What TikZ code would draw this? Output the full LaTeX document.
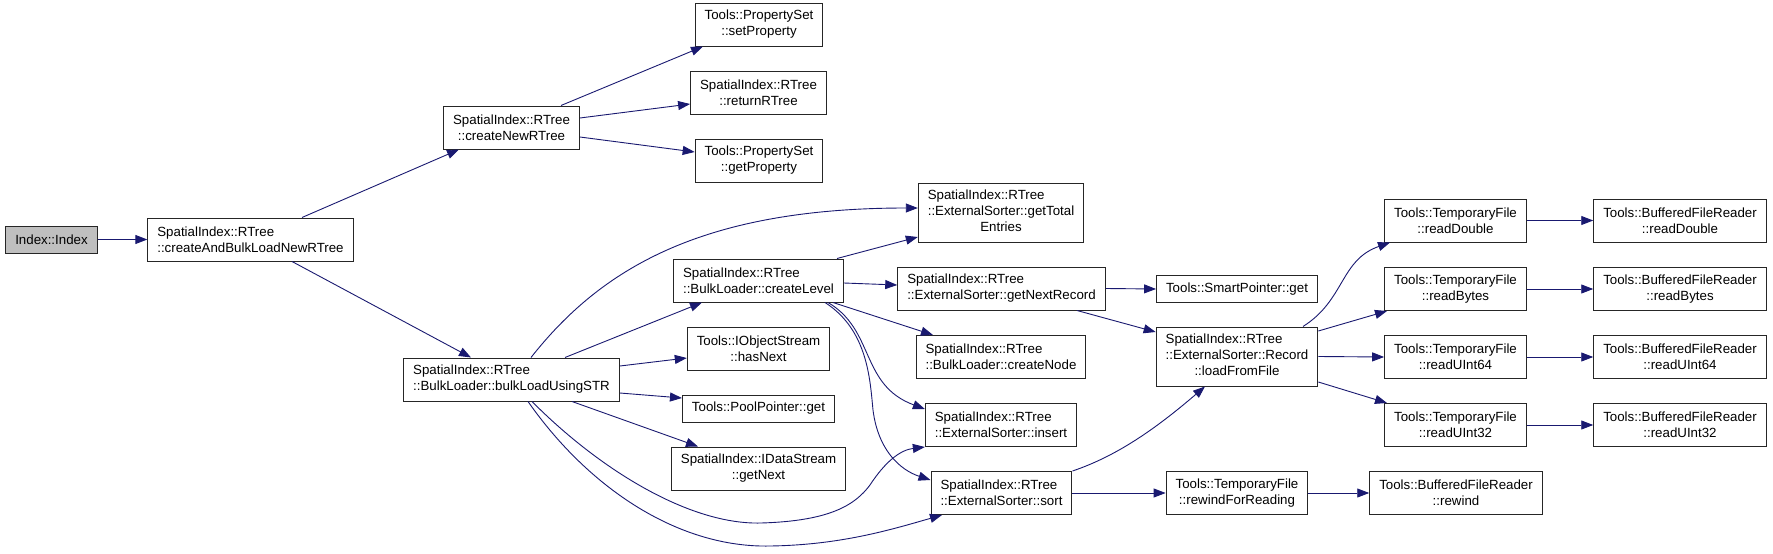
\documentclass[tikz,border=0pt]{standalone}
\usepackage{fontspec}
\setmainfont{Liberation Sans}
\usetikzlibrary{arrows.meta}
\definecolor{callblue}{RGB}{25,25,112}
\newcommand{\lastrow}[1]{\multicolumn{1}{@{}c@{}}{#1}}

\begin{document}
\begin{tikzpicture}[x=1pt, y=-1pt,
        fn/.style={draw=black!85, line width=1pt, fill=white, inner xsep=9.5pt, inner ysep=0pt,
            minimum height=43pt, align=center, font=\fontsize{13.3}{16}\selectfont},
        fnl/.style={fn, align=left},
        one/.style={minimum height=27pt},
        three/.style={minimum height=59pt},
        call/.style={draw=callblue, line width=0.9pt, -{Triangle[length=12pt,width=9pt]}}]

            \useasboundingbox (0,0) rectangle (1773,554);

            \node[fn, one, fill=black!25] (index) at (51.5,239.5) {Index::Index};
            \node[fnl] (cabl) at (250.5,239.5) {SpatialIndex::RTree\\::createAndBulkLoadNewRTree};
            \node[fn] (cnr) at (511.5,127.5) {SpatialIndex::RTree\\::createNewRTree};
            \node[fnl] (bls) at (511.5,379.5) {SpatialIndex::RTree\\::BulkLoader::bulkLoadUsingSTR};

            \node[fn] (setp) at (759,24.5) {Tools::PropertySet\\::setProperty};
            \node[fn] (ret) at (758.5,92.5) {SpatialIndex::RTree\\::returnRTree};
            \node[fn] (getp) at (759,160.5) {Tools::PropertySet\\::getProperty};
            \node[fnl] (lvl) at (758.5,280.5) {SpatialIndex::RTree\\::BulkLoader::createLevel};
            \node[fn] (hasn) at (758.5,348.5) {Tools::IObjectStream\\::hasNext};
            \node[fn, one] (pool) at (758.5,408.5) {Tools::PoolPointer::get};
            \node[fn] (getn) at (758.5,468.5) {SpatialIndex::IDataStream\\::getNext};

            \node[fn, three] (tot) at (1001,212.5) {\begin{tabular}{@{}l@{}}SpatialIndex::RTree\\::ExternalSorter::getTotal\\\lastrow{Entries}\end{tabular}};
            \node[fnl] (nxt) at (1001.5,288.5) {SpatialIndex::RTree\\::ExternalSorter::getNextRecord};
            \node[fnl] (cnode) at (1001,357) {SpatialIndex::RTree\\::BulkLoader::createNode};
            \node[fnl] (ins) at (1001,425) {SpatialIndex::RTree\\::ExternalSorter::insert};
            \node[fnl] (srt) at (1001.5,493) {SpatialIndex::RTree\\::ExternalSorter::sort};

            \node[fn, one] (smart) at (1237,289) {Tools::SmartPointer::get};
            \node[fn, three] (load) at (1237,356.5) {\begin{tabular}{@{}l@{}}SpatialIndex::RTree\\::ExternalSorter::Record\\\lastrow{::loadFromFile}\end{tabular}};
            \node[fn] (rwf) at (1237,493) {Tools::TemporaryFile\\::rewindForReading};
            \node[fn] (bfrw) at (1456,493) {Tools::BufferedFileReader\\::rewind};

            \foreach \kind/\y in {Double/220.5, Bytes/289, UInt64/357, UInt32/425} {
                \node[fn] (tf\kind) at (1455.5,\y) {Tools::TemporaryFile\\::read\kind};
                \node[fn] (bf\kind) at (1680,\y) {Tools::BufferedFileReader\\::read\kind};
                \draw[call] (tf\kind) -- (bf\kind);
            }

            \draw[call] (index) -- (cabl);
            \draw[call] ([xshift=51.5pt]cabl.north) -- ([xshift=-52.5pt]cnr.south);
            \draw[call] ([xshift=41.5pt]cabl.south) -- ([xshift=-40.5pt]bls.north);

            \draw[call] ([xshift=49.5pt]cnr.north) -- ([xshift=-56pt]setp.south);
            \draw[call] ([yshift=9.5pt]cnr.east) -- ([yshift=-11.5pt]ret.west);
            \draw[call] ([yshift=-9.5pt]cnr.east) -- ([yshift=8.5pt]getp.west);

            \draw[call] ([xshift=19.5pt]bls.north) .. controls (600,270) and (700,208) .. ([yshift=4.5pt]tot.west);
            \draw[call] ([xshift=53.5pt]bls.north) -- ([xshift=-56.5pt]lvl.south);
            \draw[call] ([yshift=13.5pt]bls.east) -- ([yshift=-9.5pt]hasn.west);
            \draw[call] ([yshift=-13.5pt]bls.east) -- ([yshift=10.5pt]pool.west);
            \draw[call] ([xshift=60.5pt]bls.south) -- ([xshift=-60.5pt]getn.north);
            \draw[call] ([xshift=20.5pt]bls.south) .. controls (600,470) and (690,525) .. (761,523)
                .. controls (830,521) and (855,505) .. (870,485) .. controls (885,462) and (900,450) .. (ins.south west);
            \draw[call] ([xshift=16.5pt]bls.south) .. controls (590,490) and (680,548) .. (770,546)
                .. controls (840,545) and (890,530) .. ([xshift=-59.5pt]srt.south);

            \draw[call] ([xshift=78.5pt]lvl.north) -- ([yshift=-24.5pt]tot.west);
            \draw[call] ([yshift=-2.5pt]lvl.east) -- ([yshift=3.5pt]nxt.west);
            \draw[call] ([xshift=74.5pt]lvl.south) -- ([xshift=-68pt]cnode.north);
            \draw[call] ([xshift=69.5pt]lvl.south) .. controls (875,330) and (860,385) .. ([yshift=16pt]ins.west);
            \draw[call] ([xshift=66.5pt]lvl.south) .. controls (868,330) and (870,380) .. (873,410)
                .. controls (878,450) and (900,470) .. ([yshift=13pt]srt.west);

            \draw[call] (nxt.east) -- (smart.west);
            \draw[call] ([xshift=75.5pt]nxt.south) -- ([yshift=24.5pt]load.west);
            \draw[call] (srt.north east) .. controls (1120,455) and (1160,425) .. ([xshift=-32pt]load.south);
            \draw[call] (srt.east) -- (rwf.west);
            \draw[call] (rwf.east) -- (bfrw.west);

            \draw[call] ([xshift=66pt]load.north) .. controls (1345,300) and (1340,260) .. ([xshift=-65.5pt]tfDouble.south);
            \draw[call] ([yshift=25.5pt]load.east) -- ([xshift=-68.5pt]tfBytes.south);
            \draw[call] (load.east) -- (tfUInt64.west);
            \draw[call] ([yshift=-25.5pt]load.east) -- ([xshift=-68.5pt]tfUInt32.north);

        \end{tikzpicture}
\end{document}
